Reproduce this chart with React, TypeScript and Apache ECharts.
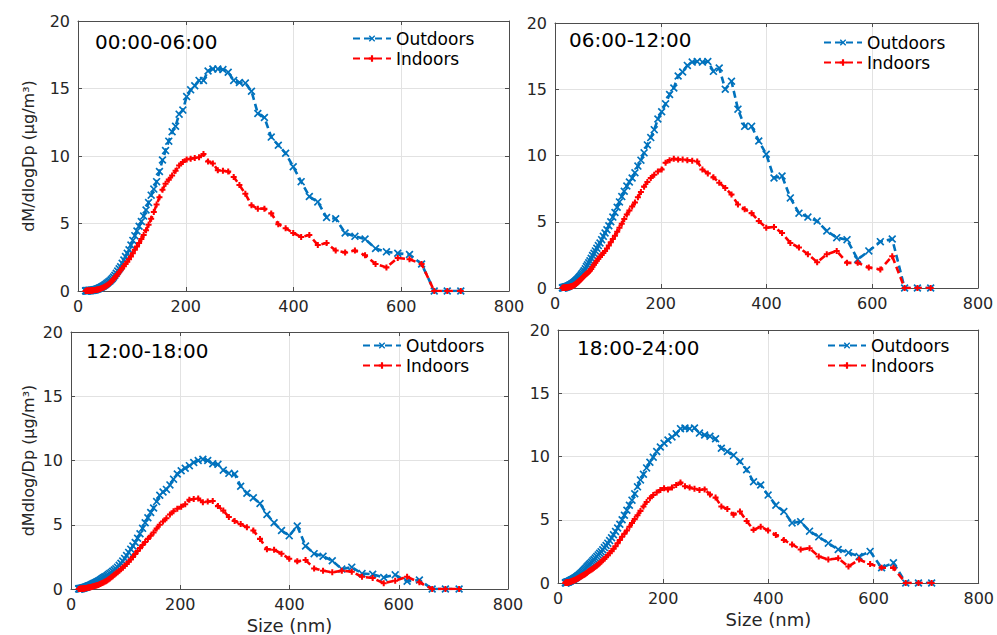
import React, { useEffect, useRef } from "react";
import * as echarts from "echarts";

// Particle size bins (nm)
const SIZES = [
  14.1, 14.6, 15.1, 15.7, 16.3, 16.8, 17.5, 18.1, 18.8, 19.5,
  20.2, 20.9, 21.7, 22.5, 23.3, 24.1, 25.0, 25.9, 26.9, 27.9,
  28.9, 30.0, 31.1, 32.2, 33.4, 34.6, 35.9, 37.2, 38.5, 40.0,
  41.4, 42.9, 44.5, 46.1, 47.8, 49.6, 51.4, 53.3, 55.2, 57.3,
  59.4, 61.5, 63.8, 66.1, 68.5, 71.0, 73.7, 76.4, 79.1, 82.0,
  85.1, 88.2, 91.4, 94.7, 98.2, 101.8, 105.5, 109.4, 113.4, 117.6,
  121.9, 126.3, 131.0, 135.8, 140.7, 145.9, 151.2, 156.8, 162.5, 168.5,
  174.7, 181.1, 187.7, 194.6, 201.7, 209.1, 216.7, 224.7, 232.9, 241.4,
  250.3, 259.5, 269.0, 278.8, 289.0, 299.6, 310.6, 322.0, 333.8, 346.0,
  358.7, 371.8, 385.4, 399.5, 414.2, 429.4, 445.1, 461.4, 478.3, 495.8,
  514.0, 532.8, 552.3, 572.5, 593.5, 615.3, 637.8, 661.2, 685.4, 710.5,
];

const PERIODS = ["00:00-06:00", "06:00-12:00", "12:00-18:00", "18:00-24:00"];
const SERIES_NAMES = ["Outdoors", "Indoors"];
const Y_LABEL_TOP = "dM/dlogDp (μg/m³)";
const Y_LABEL_BOTTOM = "dMdlog/Dp (μg/m³)";
const X_LABEL = "Size (nm)";

const OUTDOORS_00_06 = [
  0.01, 0.01, 0.01, 0.01, 0.01, 0.02, 0.02, 0.02, 0.02, 0.03,
  0.03, 0.03, 0.03, 0.04, 0.04, 0.04, 0.05, 0.05, 0.06, 0.06,
  0.07, 0.08, 0.09, 0.10, 0.12, 0.13, 0.15, 0.17, 0.19, 0.22,
  0.25, 0.28, 0.31, 0.35, 0.39, 0.44, 0.49, 0.55, 0.61, 0.68,
  0.75, 0.83, 0.93, 1.04, 1.17, 1.32, 1.48, 1.64, 1.80, 2.05,
  2.30, 2.55, 2.80, 3.05, 3.40, 3.75, 4.10, 4.45, 4.80, 5.15,
  5.55, 6.00, 6.55, 7.10, 7.55, 8.10, 8.85, 9.70, 10.40, 11.10,
  11.80, 12.20, 13.10, 13.40, 14.40, 14.90, 15.20, 15.60, 15.60, 16.30,
  16.45, 16.45, 16.40, 16.20, 15.60, 15.45, 15.40, 14.80, 13.15, 12.85,
  11.40, 10.80, 10.20, 9.20, 8.10, 7.00, 6.60, 5.45, 5.35, 4.30,
  4.05, 3.85, 3.15, 2.90, 2.80, 2.70, 2.00, 0, 0, 0,
];
const INDOORS_00_06 = [
  0, 0, 0, 0.01, 0.01, 0.01, 0.01, 0.01, 0.01, 0.02,
  0.02, 0.02, 0.02, 0.03, 0.03, 0.03, 0.04, 0.04, 0.05, 0.05,
  0.06, 0.07, 0.07, 0.08, 0.09, 0.10, 0.11, 0.12, 0.13, 0.15,
  0.17, 0.19, 0.22, 0.25, 0.28, 0.32, 0.36, 0.41, 0.46, 0.52,
  0.60, 0.68, 0.78, 0.89, 1.00, 1.12, 1.25, 1.39, 1.53, 1.68,
  1.84, 2.00, 2.17, 2.35, 2.55, 2.80, 3.05, 3.30, 3.55, 3.85,
  4.15, 4.50, 4.90, 5.35, 5.85, 6.40, 6.95, 7.50, 7.95, 8.25,
  8.55, 8.90, 9.30, 9.55, 9.75, 9.80, 9.85, 9.90, 10.15, 9.60,
  9.45, 8.95, 8.90, 8.85, 8.45, 7.85, 7.20, 6.35, 6.10, 6.10,
  5.75, 4.95, 4.65, 4.30, 4.00, 4.15, 3.40, 3.55, 3.00, 2.85,
  3.00, 2.65, 2.00, 1.75, 2.45, 2.35, 2.00, 0, 0, 0,
];
const OUTDOORS_06_12 = [
  0.01, 0.01, 0.02, 0.02, 0.03, 0.03, 0.04, 0.04, 0.05, 0.06,
  0.07, 0.08, 0.09, 0.10, 0.11, 0.12, 0.14, 0.16, 0.18, 0.20,
  0.22, 0.25, 0.28, 0.31, 0.34, 0.38, 0.42, 0.46, 0.51, 0.56,
  0.62, 0.68, 0.75, 0.83, 0.91, 1.00, 1.10, 1.20, 1.31, 1.45,
  1.62, 1.75, 1.90, 2.05, 2.25, 2.45, 2.62, 2.80, 3.00, 3.20,
  3.40, 3.65, 3.90, 4.15, 4.40, 4.70, 5.00, 5.35, 5.70, 6.10,
  6.50, 6.90, 7.30, 7.70, 8.00, 8.30, 8.70, 9.20, 9.65, 10.20,
  10.80, 11.35, 11.95, 12.75, 13.30, 13.90, 14.60, 15.10, 16.00, 16.30,
  16.80, 17.05, 17.10, 17.05, 17.10, 16.35, 16.60, 15.00, 15.60, 13.50,
  12.20, 12.20, 11.10, 10.10, 8.30, 8.45, 6.80, 5.65, 5.35, 5.05,
  4.30, 3.80, 3.65, 2.15, 2.80, 3.50, 3.70, 0, 0, 0,
];
const INDOORS_06_12 = [
  0, 0, 0.01, 0.01, 0.01, 0.01, 0.01, 0.02, 0.02, 0.02,
  0.03, 0.03, 0.04, 0.04, 0.05, 0.05, 0.06, 0.07, 0.08, 0.09,
  0.10, 0.11, 0.13, 0.14, 0.16, 0.19, 0.22, 0.25, 0.29, 0.33,
  0.38, 0.43, 0.49, 0.55, 0.61, 0.68, 0.75, 0.83, 0.91, 1.00,
  1.05, 1.13, 1.22, 1.32, 1.44, 1.60, 1.75, 1.90, 2.05, 2.20,
  2.35, 2.50, 2.65, 2.80, 2.98, 3.20, 3.45, 3.70, 3.95, 4.25,
  4.55, 4.85, 5.20, 5.55, 5.85, 6.15, 6.45, 6.85, 7.25, 7.65,
  8.00, 8.30, 8.55, 8.80, 8.95, 9.45, 9.65, 9.75, 9.70, 9.70,
  9.65, 9.60, 9.55, 8.95, 8.65, 8.35, 7.95, 7.55, 7.05, 6.30,
  5.95, 5.65, 5.05, 4.55, 4.60, 4.15, 3.40, 3.05, 2.55, 1.95,
  2.55, 2.80, 1.90, 1.90, 1.55, 1.40, 2.40, 0, 0, 0,
];
const OUTDOORS_12_18 = [
  0.01, 0.01, 0.01, 0.02, 0.02, 0.02, 0.03, 0.03, 0.04, 0.04,
  0.05, 0.06, 0.07, 0.08, 0.09, 0.10, 0.11, 0.13, 0.14, 0.16,
  0.18, 0.20, 0.22, 0.24, 0.26, 0.28, 0.30, 0.33, 0.36, 0.39,
  0.42, 0.45, 0.49, 0.52, 0.56, 0.60, 0.65, 0.70, 0.76, 0.82,
  0.88, 0.93, 0.98, 1.05, 1.12, 1.20, 1.29, 1.38, 1.48, 1.58,
  1.70, 1.84, 2.00, 2.18, 2.38, 2.60, 2.85, 3.10, 3.35, 3.62,
  3.95, 4.30, 4.72, 5.15, 5.55, 5.95, 6.30, 6.80, 7.30, 7.55,
  7.75, 8.10, 8.55, 8.95, 9.20, 9.40, 9.60, 9.85, 10.00, 10.10,
  10.00, 9.75, 9.70, 9.25, 9.00, 8.95, 8.00, 7.45, 7.10, 6.65,
  5.80, 5.15, 4.55, 4.15, 4.90, 3.35, 2.75, 2.55, 2.20, 1.55,
  1.70, 1.20, 1.15, 0.90, 1.10, 0.60, 0.70, 0, 0, 0,
];
const INDOORS_12_18 = [
  0, 0, 0, 0, 0.01, 0.01, 0.01, 0.01, 0.01, 0.02,
  0.02, 0.02, 0.03, 0.03, 0.04, 0.04, 0.05, 0.05, 0.06, 0.07,
  0.08, 0.09, 0.10, 0.11, 0.12, 0.13, 0.14, 0.15, 0.17, 0.19,
  0.21, 0.23, 0.25, 0.27, 0.29, 0.32, 0.35, 0.38, 0.42, 0.46,
  0.51, 0.56, 0.61, 0.67, 0.74, 0.82, 0.91, 1.00, 1.10, 1.20,
  1.31, 1.42, 1.54, 1.66, 1.80, 1.95, 2.12, 2.30, 2.50, 2.72,
  2.95, 3.18, 3.42, 3.66, 3.90, 4.15, 4.40, 4.70, 5.00, 5.25,
  5.50, 5.80, 6.05, 6.25, 6.40, 6.60, 6.95, 7.00, 7.05, 6.75,
  6.80, 6.85, 6.45, 6.10, 5.60, 5.30, 5.05, 4.80, 4.55, 3.90,
  3.10, 3.05, 2.75, 2.35, 2.15, 2.25, 1.60, 1.42, 1.30, 1.42,
  1.35, 0.95, 0.85, 0.45, 0.65, 0.95, 0.52, 0, 0, 0,
];
const OUTDOORS_18_24 = [
  0.01, 0.02, 0.02, 0.03, 0.04, 0.05, 0.06, 0.07, 0.08, 0.09,
  0.10, 0.12, 0.13, 0.15, 0.17, 0.19, 0.21, 0.23, 0.25, 0.28,
  0.30, 0.33, 0.36, 0.39, 0.42, 0.46, 0.50, 0.54, 0.58, 0.63,
  0.68, 0.74, 0.80, 0.87, 0.94, 1.02, 1.10, 1.19, 1.28, 1.37,
  1.46, 1.55, 1.65, 1.75, 1.86, 1.97, 2.09, 2.22, 2.35, 2.48,
  2.63, 2.80, 2.97, 3.15, 3.35, 3.58, 3.82, 4.08, 4.35, 4.65,
  5.00, 5.35, 5.75, 6.15, 6.55, 7.05, 7.60, 8.15, 8.60, 9.10,
  9.55, 9.95, 10.40, 10.75, 11.05, 11.30, 11.55, 11.80, 12.20, 12.25,
  12.20, 12.25, 11.85, 11.70, 11.60, 11.40, 10.65, 10.40, 10.10, 9.60,
  8.95, 8.00, 7.75, 6.95, 6.15, 5.65, 4.75, 4.85, 4.10, 3.65,
  3.15, 2.65, 2.40, 2.10, 2.50, 1.20, 1.60, 0, 0, 0,
];
const INDOORS_18_24 = [
  0.01, 0.01, 0.01, 0.02, 0.02, 0.03, 0.03, 0.04, 0.04, 0.05,
  0.06, 0.06, 0.07, 0.08, 0.09, 0.10, 0.11, 0.13, 0.15, 0.17,
  0.18, 0.20, 0.22, 0.24, 0.26, 0.29, 0.32, 0.35, 0.38, 0.42,
  0.45, 0.49, 0.53, 0.57, 0.61, 0.65, 0.70, 0.76, 0.82, 0.88,
  0.94, 1.00, 1.06, 1.12, 1.20, 1.28, 1.37, 1.47, 1.57, 1.68,
  1.80, 1.92, 2.05, 2.20, 2.35, 2.52, 2.70, 2.90, 3.15, 3.40,
  3.65, 3.90, 4.15, 4.45, 4.75, 5.05, 5.35, 5.70, 6.05, 6.40,
  6.70, 6.95, 7.15, 7.35, 7.50, 7.40, 7.55, 7.75, 7.95, 7.65,
  7.55, 7.45, 7.35, 7.40, 7.00, 6.75, 6.05, 5.85, 5.40, 5.65,
  4.90, 4.20, 4.45, 4.15, 3.80, 3.40, 3.05, 2.65, 2.75, 2.10,
  1.85, 1.95, 1.30, 1.85, 1.50, 1.20, 1.20, 0, 0, 0,
];

const OUTDOORS = [OUTDOORS_00_06, OUTDOORS_06_12, OUTDOORS_12_18, OUTDOORS_18_24];
const INDOORS = [INDOORS_00_06, INDOORS_06_12, INDOORS_12_18, INDOORS_18_24];

// Layout
const GRIDS = [
  { left: 78, top: 21, width: 431, height: 270 },
  { left: 555, top: 23, width: 423, height: 265 },
  { left: 71, top: 332, width: 437, height: 258 },
  { left: 558, top: 330, width: 421, height: 253 },
];
const TITLE_POS = [
  { left: 95, top: 32 },
  { left: 569, top: 30 },
  { left: 86, top: 341 },
  { left: 577, top: 338 },
];
const LEGEND_POS = [
  { left: 352, top: 30 },
  { left: 823, top: 34 },
  { left: 362, top: 337 },
  { left: 827, top: 337 },
];

const FONT = "DejaVu Sans";
const BLUE = "#0072BD";
const RED = "#FF0000";
const AXIS_COLOR = "#4d4d4d";
const GRID_COLOR = "#e2e2e2";
const TEXT_COLOR = "#262626";

const X_SYMBOL =
  "path://M0,1.5L1.5,0L5,3.5L8.5,0L10,1.5L6.5,5L10,8.5L8.5,10L5,6.5L1.5,10L0,8.5L3.5,5Z";
const PLUS_SYMBOL = "path://M3.3,0H6.7V3.3H10V6.7H6.7V10H3.3V6.7H0V3.3H3.3Z";

function buildOption() {
  const xAxis: any[] = [];
  const yAxis: any[] = [];
  GRIDS.forEach((_, i) => {
    xAxis.push({
      type: "value",
      gridIndex: i,
      min: 0,
      max: 800,
      interval: 200,
      position: "bottom",
      axisLine: { show: true, onZero: false, lineStyle: { color: AXIS_COLOR, width: 1 } },
      axisTick: { show: true, inside: true, length: 4, lineStyle: { color: AXIS_COLOR } },
      axisLabel: { color: TEXT_COLOR, fontSize: 16, fontFamily: FONT, margin: 7 },
      splitLine: { show: true, lineStyle: { color: GRID_COLOR, width: 1 } },
      name: i >= 2 ? X_LABEL : "",
      nameLocation: "middle",
      nameGap: 27,
      nameTextStyle: { color: TEXT_COLOR, fontSize: 18, fontFamily: FONT },
    });
    yAxis.push({
      type: "value",
      gridIndex: i,
      min: 0,
      max: 20,
      interval: 5,
      position: "left",
      axisLine: { show: true, onZero: false, lineStyle: { color: AXIS_COLOR, width: 1 } },
      axisTick: { show: true, inside: true, length: 4, lineStyle: { color: AXIS_COLOR } },
      axisLabel: { color: TEXT_COLOR, fontSize: 16, fontFamily: FONT, margin: 8 },
      splitLine: { show: true, lineStyle: { color: GRID_COLOR, width: 1 } },
      name: i === 0 ? Y_LABEL_TOP : i === 2 ? Y_LABEL_BOTTOM : "",
      nameLocation: "middle",
      nameRotate: 90,
      nameGap: i === 0 ? 42 : 35,
      nameTextStyle: { color: TEXT_COLOR, fontSize: 16, fontFamily: FONT },
    });
  });
  GRIDS.forEach((_, i) => {
    xAxis.push({
      type: "value",
      gridIndex: i,
      min: 0,
      max: 800,
      interval: 200,
      position: "top",
      axisLine: { show: true, onZero: false, lineStyle: { color: AXIS_COLOR, width: 1 } },
      axisTick: { show: true, inside: true, length: 4, lineStyle: { color: AXIS_COLOR } },
      axisLabel: { show: false },
      splitLine: { show: false },
    });
    yAxis.push({
      type: "value",
      gridIndex: i,
      min: 0,
      max: 20,
      interval: 5,
      position: "right",
      axisLine: { show: true, onZero: false, lineStyle: { color: AXIS_COLOR, width: 1 } },
      axisTick: { show: true, inside: true, length: 4, lineStyle: { color: AXIS_COLOR } },
      axisLabel: { show: false },
      splitLine: { show: false },
    });
  });

  const series: any[] = [];
  GRIDS.forEach((_, i) => {
    series.push({
      type: "line",
      name: SERIES_NAMES[0],
      xAxisIndex: i,
      yAxisIndex: i,
      data: SIZES.map((s, k) => [s, OUTDOORS[i][k]]),
      symbol: X_SYMBOL,
      symbolSize: 8,
      showSymbol: true,
      lineStyle: { color: BLUE, width: 2.6, type: [7, 4] },
      itemStyle: { color: BLUE },
      z: 3,
    });
    series.push({
      type: "line",
      name: SERIES_NAMES[1],
      xAxisIndex: i,
      yAxisIndex: i,
      data: SIZES.map((s, k) => [s, INDOORS[i][k]]),
      symbol: PLUS_SYMBOL,
      symbolSize: 6,
      showSymbol: true,
      lineStyle: { color: RED, width: 2.6, type: [7, 4] },
      itemStyle: { color: RED },
      z: 4,
    });
  });

  return {
    animation: false,
    backgroundColor: "#ffffff",
    grid: GRIDS.map((g) => ({ ...g, containLabel: false })),
    xAxis,
    yAxis,
    title: PERIODS.map((p, i) => ({
      text: p,
      left: TITLE_POS[i].left,
      top: TITLE_POS[i].top,
      padding: 0,
      textStyle: { color: "#000", fontSize: 20, fontWeight: "normal", fontFamily: FONT },
    })),
    legend: LEGEND_POS.map((pos) => ({
      data: SERIES_NAMES,
      orient: "vertical",
      left: pos.left,
      top: pos.top,
      padding: 0,
      itemWidth: 38,
      itemHeight: 8,
      itemGap: 3,
      selectedMode: false,
      textStyle: { color: "#000", fontSize: 17, fontFamily: FONT },
    })),
    series,
  };
}

export default function App() {
  const ref = useRef<HTMLDivElement>(null);
  useEffect(() => {
    document.body.style.margin = "0";
    if (!ref.current) return;
    const chart = echarts.init(ref.current, undefined, { renderer: "svg" });
    chart.setOption(buildOption() as any);
    return () => chart.dispose();
  }, []);
  return <div ref={ref} style={{ width: 997, height: 635, background: "#fff" }} />;
}
